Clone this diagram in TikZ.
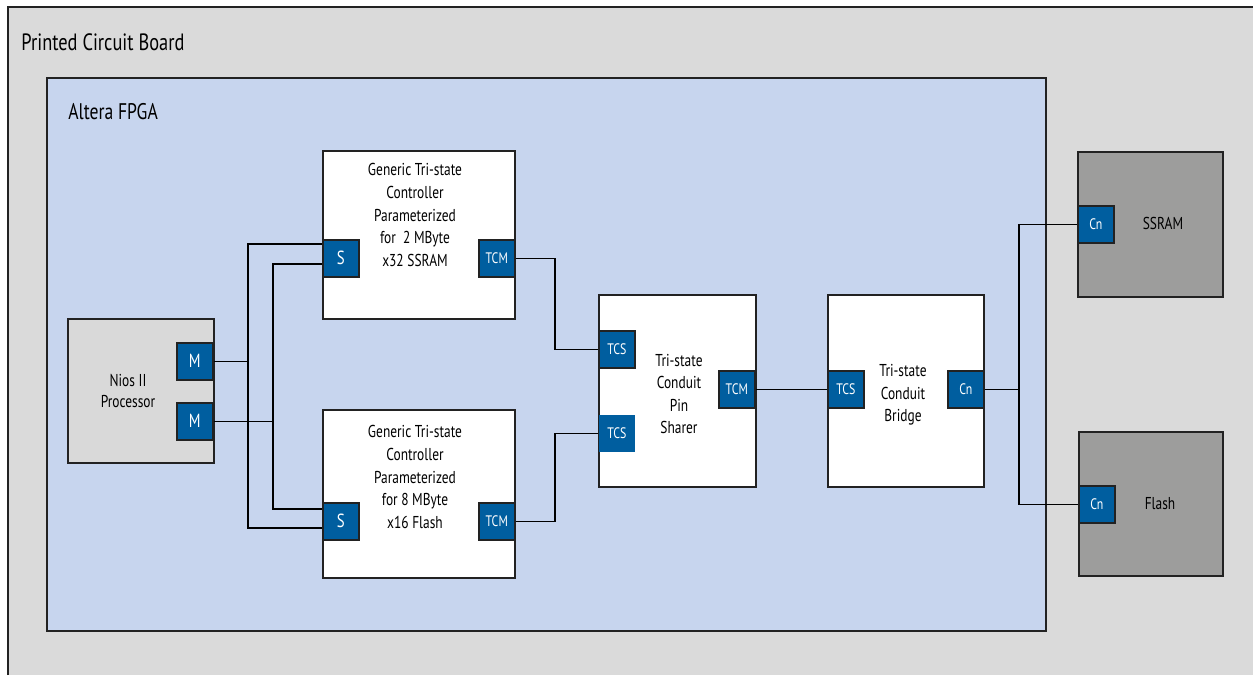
\documentclass[tikz,border=0pt]{standalone}
\usepackage{fontspec}
\setmainfont[FakeStretch=0.78]{PT Sans}
\usetikzlibrary{calc}
\definecolor{pcbfill}{HTML}{DADADA}
\definecolor{fpgafill}{HTML}{C7D5EE}
\definecolor{portblue}{HTML}{005E9F}
\definecolor{devgray}{HTML}{9D9D9C}
\definecolor{niosgray}{HTML}{D9D9D9}
\definecolor{edge}{HTML}{222222}
\begin{document}
\begin{tikzpicture}[x=0.5pt,y=-0.5pt,
  blk/.style={draw=edge,line width=0.8pt,anchor=north west,inner sep=0pt},
  port/.style={draw=edge,line width=0.8pt,fill=portblue,text=white,anchor=north west,inner sep=0pt,
    minimum width=18pt,minimum height=18.5pt,font=\fontsize{9.5}{10}\selectfont},
  sport/.style={port,font=\fontsize{7.6}{8}\selectfont},
  body/.style={align=center,inner sep=0pt,font=\fontsize{8.6}{11.3}\selectfont},
  title/.style={anchor=west,inner sep=0pt,font=\fontsize{11.8}{13}\selectfont},
  wire/.style={draw=black,line width=0.6pt}]
\useasboundingbox (0,0) rectangle (1253,675);
% board
\fill[pcbfill] (8,7) rectangle (1253,675);
\draw[edge,line width=0.8pt] (8,675) -- (8,7) -- (1253,7);
\node[title] (pcbt) at (21,42) {Printed Circuit Board};
% FPGA
\node[blk,fill=fpgafill,minimum width=999*0.5pt,minimum height=553*0.5pt] (fpga) at (46,77) {};
\node[title,font=\fontsize{11.3}{13}\selectfont] (fpgat) at (68,112) {Altera FPGA};
% Nios
\node[blk,fill=niosgray,minimum width=146*0.5pt,minimum height=144*0.5pt] (nios) at (67,318) {};
\node[body,font=\fontsize{8.6}{10.5}\selectfont] (niost) at (128,391) {Nios II\\Processor};
\node[port] (m1) at (176,342) {M};
\node[port] (m2) at (176,402) {M};
% controllers
\node[blk,fill=white,minimum width=192*0.5pt,minimum height=168*0.5pt] (c1) at (322,150) {};
\node[body] (c1t) at (415,215) {Generic Tri-state\\Controller\\Parameterized\\for\ \ 2 MByte\\x32 SSRAM};
\node[port] (s1) at (322,239) {S};
\node[sport] (tcm1) at (478,239) {TCM};
\node[blk,fill=white,minimum width=192*0.5pt,minimum height=168*0.5pt] (c2) at (322,409) {};
\node[body] (c2t) at (415,477) {Generic Tri-state\\Controller\\Parameterized\\for 8 MByte\\x16 Flash};
\node[port] (s2) at (322,502) {S};
\node[sport] (tcm2) at (478,502) {TCM};
% pin sharer
\node[blk,fill=white,minimum width=157*0.5pt,minimum height=192*0.5pt] (ps) at (598,294) {};
\node[body] (pst) at (679,394) {Tri-state\\Conduit\\Pin\\Sharer};
\node[sport] (tcs1) at (598,330) {TCS};
\node[sport,draw=none] (tcs2) at (598,414) {TCS};
\node[sport] (tcm3) at (718,370) {TCM};
% bridge
\node[blk,fill=white,minimum width=156*0.5pt,minimum height=192*0.5pt] (br) at (827,294) {};
\node[body] (brt) at (903,395) {Tri-state\\Conduit\\Bridge};
\node[sport] (tcsb) at (827,370) {TCS};
\node[sport] (cnb) at (947,370) {Cn};
% devices
\node[blk,fill=devgray,minimum width=145*0.5pt,minimum height=145*0.5pt] (ssram) at (1077,151) {};
\node[body] (ssramt) at (1163,223) {SSRAM};
\node[sport] (cn1) at (1077,205) {Cn};
\node[blk,fill=devgray,minimum width=144*0.5pt,minimum height=144*0.5pt] (flash) at (1078,431) {};
\node[body] (flasht) at (1160,504) {Flash};
\node[sport] (cn2) at (1078,485) {Cn};
% wires
\coordinate (ja) at (248,360);
\coordinate (jb) at (273,419);
\draw[wire] (m1.east) -- (m1.east -| ja);
\draw[wire] (s1.west |- 0,244) -- (248,244) -- (248,528) -- (s2.west |- 0,528);
\draw[wire] (m2.east) -- (m2.east -| jb);
\draw[wire] (s1.west |- 0,264) -- (273,264) -- (273,509) -- (s2.west |- 0,509);
\draw[wire] (tcm1.east) -- (tcm1.east -| 555,0) |- (tcs1.west);
\draw[wire] (tcm2.east) -- (tcm2.east -| 555,0) |- (tcs2.west);
\draw[wire] (tcm3.east) -- (tcsb.west);
\coordinate (jc) at (1019,389);
\draw[wire] (cnb.east) -- (cnb.east -| jc);
\draw[wire] (cn1.west) -- (cn1.west -| jc) -- (cn2.west -| jc) -- (cn2.west);
\end{tikzpicture}
\end{document}
